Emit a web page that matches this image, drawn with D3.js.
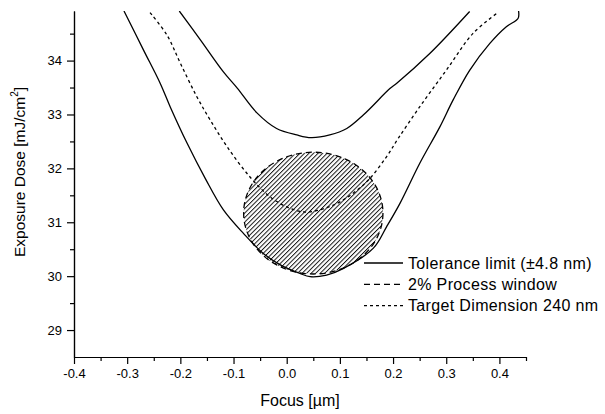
<!DOCTYPE html>
<meta charset="utf-8">
<script src="https://cdn.jsdelivr.net/npm/d3@7"></script>
<style>
body { margin: 0; background: #fff; }
text { font-family: "Liberation Sans", Arial, sans-serif; fill: #000; }
.axis path, .axis line { stroke: #000; stroke-width: 1.2px; }
.axis text { font-size: 13px; font-family: "Liberation Sans", Arial, sans-serif; }
path.curve { fill: none; stroke: #000; stroke-width: 1.3px; }
</style>
<body>
<script>
// tick values
var xTicks = [-0.4, -0.3, -0.2, -0.1, 0.0, 0.1, 0.2, 0.3, 0.4];
var xMinor = [-0.35, -0.25, -0.15, -0.05, 0.05, 0.15, 0.25, 0.35, 0.45];
var yTicks = [29, 30, 31, 32, 33, 34];
var yMinor = [29.5, 30.5, 31.5, 32.5, 33.5, 34.5];

// curves: [focus um, dose mJ/cm2]
var upperLimit = [[-0.202, 34.92], [-0.162, 34.38], [-0.119, 33.79], [-0.093, 33.49], [-0.056, 33.03],
  [-0.019, 32.74], [0.019, 32.62], [0.046, 32.57], [0.081, 32.62], [0.113, 32.74], [0.144, 32.99],
  [0.194, 33.48], [0.207, 33.58], [0.269, 34.13], [0.344, 34.91]];
var lowerLimit = [[-0.306, 34.92], [-0.269, 34.19], [-0.238, 33.58], [-0.219, 33.14], [-0.187, 32.46],
  [-0.153, 31.81], [-0.119, 31.23], [-0.081, 30.79], [-0.044, 30.42], [-0.012, 30.21], [0.025, 30.05],
  [0.044, 29.99], [0.075, 30.02], [0.106, 30.14], [0.163, 30.52], [0.188, 30.92], [0.213, 31.35],
  [0.250, 32.09], [0.288, 32.77], [0.313, 33.27], [0.344, 33.82], [0.382, 34.32], [0.413, 34.63],
  [0.435, 34.78], [0.436, 34.92]];
var targetDim = [[-0.257, 34.89], [-0.225, 34.47], [-0.200, 33.95], [-0.169, 33.33], [-0.144, 32.90],
  [-0.112, 32.40], [-0.069, 31.84], [-0.031, 31.47], [0.006, 31.26], [0.038, 31.19], [0.088, 31.32],
  [0.125, 31.54], [0.156, 31.81], [0.188, 32.22], [0.210, 32.56], [0.250, 33.14], [0.300, 33.82],
  [0.350, 34.50], [0.397, 34.89]];

// process window ellipse: centre and half widths
var windowCenter = [0.05, 31.17];
var windowHalf = [0.131, 1.13];

var legendLabels = ["Tolerance limit (\u00b14.8 nm)", "2% Process window", "Target Dimension 240 nm"];
var legendDash = [null, "6,4", "3,3"];

var width = 605, height = 414;

var x = d3.scaleLinear().domain([-0.4, 0.45]).range([74, 526]);
var y = d3.scaleLinear().domain([28.5, 34.92]).range([357, 11]);

var svg = d3.select("body").append("svg")
    .attr("width", width)
    .attr("height", height);

var defs = svg.append("defs");
defs.append("clipPath").attr("id", "plot")
  .append("rect")
    .attr("x", x(-0.4)).attr("y", y(34.92))
    .attr("width", x(0.45) - x(-0.4)).attr("height", y(28.5) - y(34.92));

var hatch = defs.append("pattern")
    .attr("id", "hatch")
    .attr("patternUnits", "userSpaceOnUse")
    .attr("width", 3.2).attr("height", 10)
    .attr("patternTransform", "rotate(45)");
hatch.append("line")
    .attr("x1", 0.5).attr("y1", 0).attr("x2", 0.5).attr("y2", 10)
    .attr("stroke", "#000").attr("stroke-width", 0.9);

// axes
svg.append("g")
    .attr("class", "axis")
    .attr("transform", "translate(0," + y(28.5) + ")")
    .call(d3.axisBottom(x).tickValues(xMinor).tickSize(4).tickSizeOuter(0).tickFormat(""));
svg.append("g")
    .attr("class", "axis")
    .attr("transform", "translate(0," + y(28.5) + ")")
    .call(d3.axisBottom(x).tickValues(xTicks).tickSize(7).tickPadding(5).tickSizeOuter(0)
      .tickFormat(function(d) { return d.toFixed(1); }));

svg.append("g")
    .attr("class", "axis")
    .attr("transform", "translate(" + x(-0.4) + ",0)")
    .call(d3.axisLeft(y).tickValues(yMinor).tickSize(4).tickSizeOuter(0).tickFormat(""));
svg.append("g")
    .attr("class", "axis")
    .attr("transform", "translate(" + x(-0.4) + ",0)")
    .call(d3.axisLeft(y).tickValues(yTicks).tickSize(7).tickPadding(5).tickSizeOuter(0)
      .tickFormat(d3.format("d")));

svg.selectAll(".axis text").style("font-size", "13px");

// axis titles
svg.append("text")
    .attr("x", 300).attr("y", 406)
    .attr("text-anchor", "middle")
    .style("font-size", "16px")
    .text("Focus [\u00b5m]");

var yl = svg.append("text")
    .attr("transform", "translate(25,172) rotate(-90)")
    .attr("text-anchor", "middle")
    .style("font-size", "15.5px");
yl.append("tspan").text("Exposure Dose [mJ/cm");
yl.append("tspan").attr("dy", -7).style("font-size", "10px").text("2");
yl.append("tspan").attr("dy", 7).text("]");

// process window fill
var plot = svg.append("g").attr("clip-path", "url(#plot)");

plot.append("ellipse")
    .attr("cx", x(windowCenter[0])).attr("cy", y(windowCenter[1]))
    .attr("rx", x(windowCenter[0] + windowHalf[0]) - x(windowCenter[0]))
    .attr("ry", y(windowCenter[1] - windowHalf[1]) - y(windowCenter[1]))
    .style("fill", "url(#hatch)")
    .style("stroke", "none");

var line = d3.line()
    .curve(d3.curveCatmullRom.alpha(0.5))
    .x(function(d) { return x(d[0]); })
    .y(function(d) { return y(d[1]); });

plot.append("path").attr("class", "curve").attr("d", line(upperLimit));
plot.append("path").attr("class", "curve").attr("d", line(lowerLimit));
plot.append("path").attr("class", "curve").attr("d", line(targetDim))
    .style("stroke-dasharray", "3,3");

plot.append("ellipse")
    .attr("cx", x(windowCenter[0])).attr("cy", y(windowCenter[1]))
    .attr("rx", x(windowCenter[0] + windowHalf[0]) - x(windowCenter[0]))
    .attr("ry", y(windowCenter[1] - windowHalf[1]) - y(windowCenter[1]))
    .style("fill", "none")
    .style("stroke", "#000")
    .style("stroke-width", 1.3)
    .style("stroke-dasharray", "6,4");

// legend
var legend = svg.append("g").attr("transform", "translate(364,263)");
legendLabels.forEach(function(label, i) {
  legend.append("line")
      .attr("x1", 0).attr("x2", 39)
      .attr("y1", i * 21.3).attr("y2", i * 21.3)
      .style("stroke", "#000").style("stroke-width", 1.3)
      .style("stroke-dasharray", legendDash[i]);
  legend.append("text")
      .attr("x", 44).attr("y", i * 21.3 + 5.5)
      .style("font-size", "16px")
      .style("letter-spacing", "0.35px")
      .text(label);
});
</script>
</body>
